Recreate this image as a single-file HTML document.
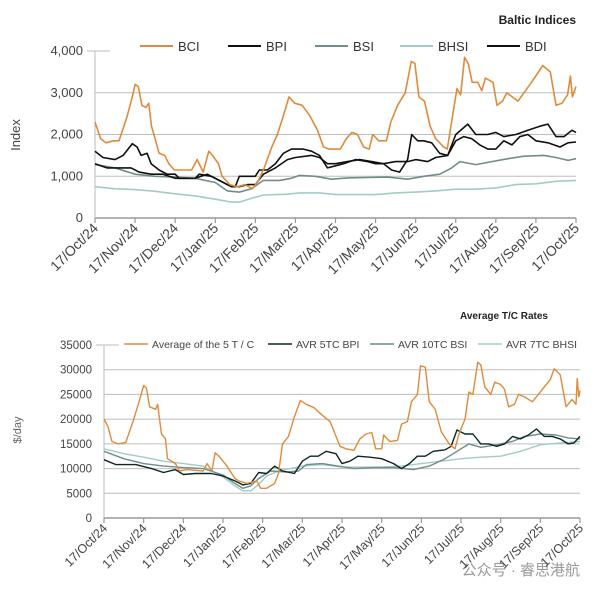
<!DOCTYPE html>
<html><head><meta charset="utf-8"><style>
body{margin:0;background:#fff;}
svg{display:block;font-family:"Liberation Sans","Noto Sans CJK SC",sans-serif;}
</style></head><body>
<svg id="c" width="600" height="592" viewBox="0 0 600 592">
<text x="576" y="24" text-anchor="end" font-size="12" font-weight="bold" fill="#222">Baltic Indices</text>
<text x="548" y="319" text-anchor="end" font-size="10" font-weight="bold" fill="#222">Average T/C Rates</text>
<text transform="translate(20,135) rotate(-90)" text-anchor="middle" font-size="13" fill="#444">Index</text>
<text transform="translate(21,430) rotate(-90)" text-anchor="middle" font-size="11" fill="#666">$/day</text>
<text x="580" y="575" text-anchor="end" font-size="15" fill="#999">公众号 · 睿思港航</text>
</svg>
<script>
const monthLabels=["17/Oct/24","17/Nov/24","17/Dec/24","17/Jan/25","17/Feb/25","17/Mar/25","17/Apr/25","17/May/25","17/Jun/25","17/Jul/25","17/Aug/25","17/Sep/25","17/Oct/25"];
const topTicks=[0,1000,2000,3000,4000];
const topTickLabels=["0","1,000","2,000","3,000","4,000"];
const botTicks=[0,5000,10000,15000,20000,25000,30000,35000];
const botTickLabels=["0","5000","10000","15000","20000","25000","30000","35000"];
const topNames=["BCI","BPI","BSI","BHSI","BDI"];
const botNames=["Average of the 5 T / C","AVR 5TC BPI","AVR 10TC BSI","AVR 7TC BHSI"];
// x values are months since 17/Oct/24
const bciX=[0,0.14,0.27,0.46,0.6,0.79,0.93,1,1.08,1.17,1.27,1.34,1.41,1.5,1.6,1.74,1.84,1.98,2.12,2.41,2.55,2.7,2.84,2.93,3.08,3.17,3.36,3.55,3.74,3.93,4.08,4.22,4.41,4.55,4.7,4.84,4.98,5.17,5.36,5.55,5.7,5.84,6.12,6.27,6.41,6.55,6.7,6.84,6.93,7.08,7.27,7.38,7.55,7.74,7.89,7.98,8.08,8.22,8.36,8.5,8.7,8.79,8.93,9.03,9.12,9.22,9.31,9.41,9.55,9.65,9.74,9.93,10.03,10.17,10.27,10.41,10.55,10.74,10.89,11.03,11.17,11.36,11.5,11.65,11.79,11.86,11.91,12];
const bciV=[2300,1900,1800,1850,1850,2400,2900,3200,3150,2700,2650,2750,2200,1900,1550,1500,1300,1150,1150,1150,1400,1100,1600,1500,1300,1000,800,750,800,700,900,1200,1700,2000,2450,2900,2750,2700,2450,2100,1700,1650,1650,1900,2050,2000,1700,1650,2000,1850,1850,2300,2700,3000,3750,3700,2900,2800,2200,1900,1700,1650,2500,3100,2950,3850,3700,3250,3250,3050,3350,3250,2700,2800,3000,2900,2800,3050,3250,3450,3650,3500,2700,2750,2950,3400,2900,3150];
const bpiX=[0,0.2,0.5,0.7,0.93,1.05,1.15,1.3,1.4,1.6,1.8,2,2.1,2.5,2.6,2.9,3.1,3.3,3.5,3.6,3.8,4,4.1,4.3,4.5,4.7,4.9,5.2,5.4,5.6,5.8,6,6.2,6.5,6.8,7,7.2,7.4,7.6,7.8,7.9,8.05,8.2,8.4,8.6,8.8,9,9.2,9.4,9.6,9.8,10,10.2,10.4,10.6,10.8,11,11.3,11.6,11.8,12];
const bpiV=[1600,1450,1400,1500,1780,1700,1500,1550,1300,1150,1050,1050,950,950,1050,1000,900,800,750,1000,1000,1000,1150,1150,1300,1550,1650,1650,1600,1500,1200,1250,1300,1400,1350,1300,1300,1150,1100,1400,2000,1850,1850,1800,1550,1500,1850,1950,1900,1750,1650,1650,1850,1750,1950,2000,1850,1800,1700,1800,1820];
const bsiX=[0,0.5,1,1.5,2,2.5,3,3.3,3.6,3.9,4.2,4.6,4.9,5.1,5.5,5.9,6.3,6.8,7.3,7.8,8.2,8.6,8.9,9.1,9.5,9.9,10.3,10.7,11.2,11.5,11.8,12];
const bsiV=[1280,1200,1050,1000,980,950,850,650,620,700,900,900,950,1020,1000,930,960,970,980,930,1000,1050,1200,1350,1280,1350,1420,1480,1500,1450,1380,1420];
const bhsiX=[0,0.5,1,1.5,2,2.5,3,3.4,3.6,3.9,4.2,4.8,5.1,5.6,6,6.5,7,7.5,8,8.5,9,9.5,10,10.5,11,11.5,12];
const bhsiV=[750,700,680,640,580,530,450,380,380,470,550,570,600,600,560,560,560,600,620,650,690,690,720,800,820,880,900];
const bdiX=[0,0.3,0.6,0.9,1.1,1.4,1.7,2,2.5,2.8,3.1,3.4,3.6,3.8,4,4.2,4.5,4.8,5,5.4,5.6,5.8,6,6.3,6.6,6.9,7.2,7.5,7.8,8,8.3,8.5,8.8,9,9.3,9.5,9.8,10,10.2,10.5,10.8,11.1,11.3,11.5,11.7,11.9,12];
const bdiV=[1300,1200,1200,1200,1100,1050,1050,950,950,1050,900,750,750,800,800,1050,1200,1400,1450,1500,1450,1300,1300,1350,1400,1350,1300,1350,1350,1400,1350,1450,1500,2000,2250,2000,2000,2050,1950,2000,2100,2200,2250,1950,1950,2100,2050];
const avgX=[0,0.1,0.2,0.35,0.55,0.75,0.9,1,1.07,1.15,1.3,1.35,1.45,1.55,1.6,1.8,1.9,2.1,2.5,2.6,2.72,2.8,2.9,3.1,3.3,3.4,3.6,3.85,3.95,4.1,4.3,4.4,4.5,4.65,4.8,4.95,5.1,5.3,5.5,5.7,5.85,5.95,6.1,6.3,6.45,6.6,6.75,6.85,7,7.05,7.2,7.4,7.5,7.65,7.75,7.9,7.98,8.1,8.2,8.35,8.5,8.7,8.85,8.95,9.1,9.2,9.3,9.42,9.5,9.6,9.75,9.85,10,10.1,10.2,10.35,10.45,10.6,10.8,10.95,11.1,11.25,11.35,11.5,11.65,11.8,11.9,11.93,11.97,12];
const avgV=[20000,18500,15500,15000,15300,20000,24000,26800,26300,22500,22000,23000,17000,16000,12000,11000,9500,9800,9500,11000,9500,13200,12500,10500,8000,7500,7000,7500,6000,6000,7000,9000,15000,16500,20500,23800,23000,22300,20800,19500,16500,14500,14000,13700,16000,17000,17300,14000,14000,16800,15500,15700,19000,19500,23500,25000,30800,30500,23500,22000,17500,15000,14000,17000,20000,25500,25000,31500,31000,26500,25000,27500,27000,26000,22500,23000,25000,24500,23500,25000,26500,28000,30200,29000,22500,24000,23000,28200,24500,25800];
const tcBpiX=[0,0.3,0.8,1.2,1.5,1.8,2,2.3,2.7,3,3.3,3.5,3.7,3.9,4.1,4.3,4.5,4.8,5,5.2,5.4,5.6,5.85,6,6.2,6.4,6.7,7,7.3,7.5,7.7,7.9,8.1,8.3,8.6,8.75,8.9,9.1,9.3,9.5,9.7,9.9,10.1,10.3,10.5,10.7,10.9,11.1,11.3,11.5,11.7,11.85,12];
const tcBpiV=[11800,10800,10800,10000,9200,9800,8800,9000,9000,8500,7500,6700,7000,9200,9000,10500,9500,9000,11500,12500,12500,13500,13000,11000,11500,12500,12300,12000,11000,10000,11000,12500,12500,13500,13800,14500,17800,17000,17000,15000,15000,14500,15000,16500,16000,16800,18000,16500,16500,16000,15000,15200,16500];
const tcBsiX=[0,0.5,1,1.5,2,2.5,3,3.3,3.5,3.7,3.9,4.2,4.6,4.9,5.1,5.5,5.9,6.3,6.8,7.3,7.8,8.2,8.6,8.9,9.2,9.5,9.9,10.3,10.6,11,11.4,11.7,12];
const tcBsiV=[13500,12000,11000,10500,10200,10000,8700,7000,6000,6500,8000,9500,9300,9500,10800,11000,10500,10000,10200,10200,9800,10500,12000,13500,15000,14300,14800,15500,16500,17000,16800,16200,16000];
const tcBhsiX=[0,0.5,1,1.5,2,2.5,3,3.3,3.5,3.7,3.9,4.1,4.4,5,5.5,6,6.5,7,7.5,8,8.5,9,9.5,10,10.5,11,11.5,12];
const tcBhsiV=[14000,13000,12300,11500,11000,10500,8300,6500,5500,5500,6800,8500,9500,10500,10800,10300,10300,10300,10500,11000,11500,12000,12300,12500,13500,14800,15200,15500];

const NS="http://www.w3.org/2000/svg";
const svg=document.getElementById("c");
function mk(tag,attrs){const e=document.createElementNS(NS,tag);for(const k in attrs)e.setAttribute(k,attrs[k]);svg.appendChild(e);return e;}
function axisX(x0,x1){return m=>x0+(x1-x0)*m/12;}
function axisY(y0,y1,max){return v=>y0-(y0-y1)*v/max;}

const tx=axisX(95,576), ty=axisY(218,51,4000);
const bx=axisX(104,580), by=axisY(518,345,35000);

function drawAxes(px,py,ticks,labels,x0,x1,yZero,prefix,fs,xfs){
  ticks.forEach((t,i)=>{
    if(t>0 && i<ticks.length-1){
      const g=mk("line",{x1:x0,x2:x1,y1:py(t),y2:py(t),stroke:"#bdbdbd","stroke-width":1});
      
      
    }
    if(i==ticks.length-1){
      const g=mk("line",{x1:x0-8,x2:x0+15,y1:py(t),y2:py(t),stroke:"#bdbdbd","stroke-width":1});
      
      
    }
    const tl=mk("text",{x:x0-12,y:py(t)+4,"text-anchor":"end","font-size":fs,fill:"#444"});
    tl.textContent=labels[i];
    
    
  });
  const ax=mk("line",{x1:x0,x2:x1,y1:yZero,y2:yZero,stroke:"#999","stroke-width":1.5});
  
  
  const ay=mk("line",{x1:x0,x2:x0,y1:py(ticks[ticks.length-1]),y2:yZero,stroke:"#bbb","stroke-width":1});
  
  
  monthLabels.forEach((l,i)=>{
    const x=px(i);
    const tk=mk("line",{x1:x,x2:x,y1:yZero,y2:yZero+5,stroke:"#999","stroke-width":1.2});
    
    
    const t=mk("text",{transform:`translate(${x+4},${yZero+11}) rotate(-45)`,"text-anchor":"end","font-size":xfs,fill:"#444"});
    t.textContent=l;
    
    
  });
}
drawAxes(tx,ty,topTicks,topTickLabels,95,576,218,"top",13,14);
drawAxes(bx,by,botTicks,botTickLabels,104,580,518,"bottom",11.5,12.5);

function line(px,py,xs,vs,color,w,name){
  const d=xs.map((m,i)=>(i?"L":"M")+px(m).toFixed(1)+","+py(vs[i]).toFixed(1)).join("");
  const p=mk("path",{d:d,fill:"none",stroke:color,"stroke-width":w,"stroke-linejoin":"round"});
  
  
}
const cBCI="#e08b3c",cBlk="#111",cBSI="#6f8d8a",cBHSI="#a3cbc6";
line(tx,ty,bhsiX,bhsiV,cBHSI,1.6,"bhsi-line");
line(tx,ty,bsiX,bsiV,cBSI,1.6,"bsi-line");
line(tx,ty,bdiX,bdiV,cBlk,1.6,"bdi-line");
line(tx,ty,bpiX,bpiV,cBlk,1.6,"bpi-line");
line(tx,ty,bciX,bciV,cBCI,1.6,"bci-line");
line(bx,by,tcBhsiX,tcBhsiV,cBHSI,1.4,"avr-7tc-bhsi-line");
line(bx,by,tcBsiX,tcBsiV,cBSI,1.4,"avr-10tc-bsi-line");
line(bx,by,tcBpiX,tcBpiV,"#0c2626",1.4,"avr-5tc-bpi-line");
line(bx,by,avgX,avgV,cBCI,1.4,"average-5tc-line");

const topLeg=[[140,cBCI],[228,cBlk],[315,cBSI],[400,cBHSI],[487,cBlk]];
topLeg.forEach((l,i)=>{
  const s=mk("line",{x1:l[0],x2:l[0]+33,y1:46,y2:46,stroke:l[1],"stroke-width":2});
  
  
  const t=mk("text",{x:l[0]+38,y:51,"font-size":13,fill:"#333"});
  t.textContent=topNames[i];
  
  
});
const botLeg=[[124,cBCI],[268,"#0c2626"],[370,cBSI],[478,cBHSI]];
botLeg.forEach((l,i)=>{
  const s=mk("line",{x1:l[0],x2:l[0]+24,y1:344,y2:344,stroke:l[1],"stroke-width":1.6});
  
  
  const t=mk("text",{x:l[0]+28,y:348,"font-size":10.5,fill:"#444"});
  t.textContent=botNames[i];
  
  
});
</script>
</body></html>
